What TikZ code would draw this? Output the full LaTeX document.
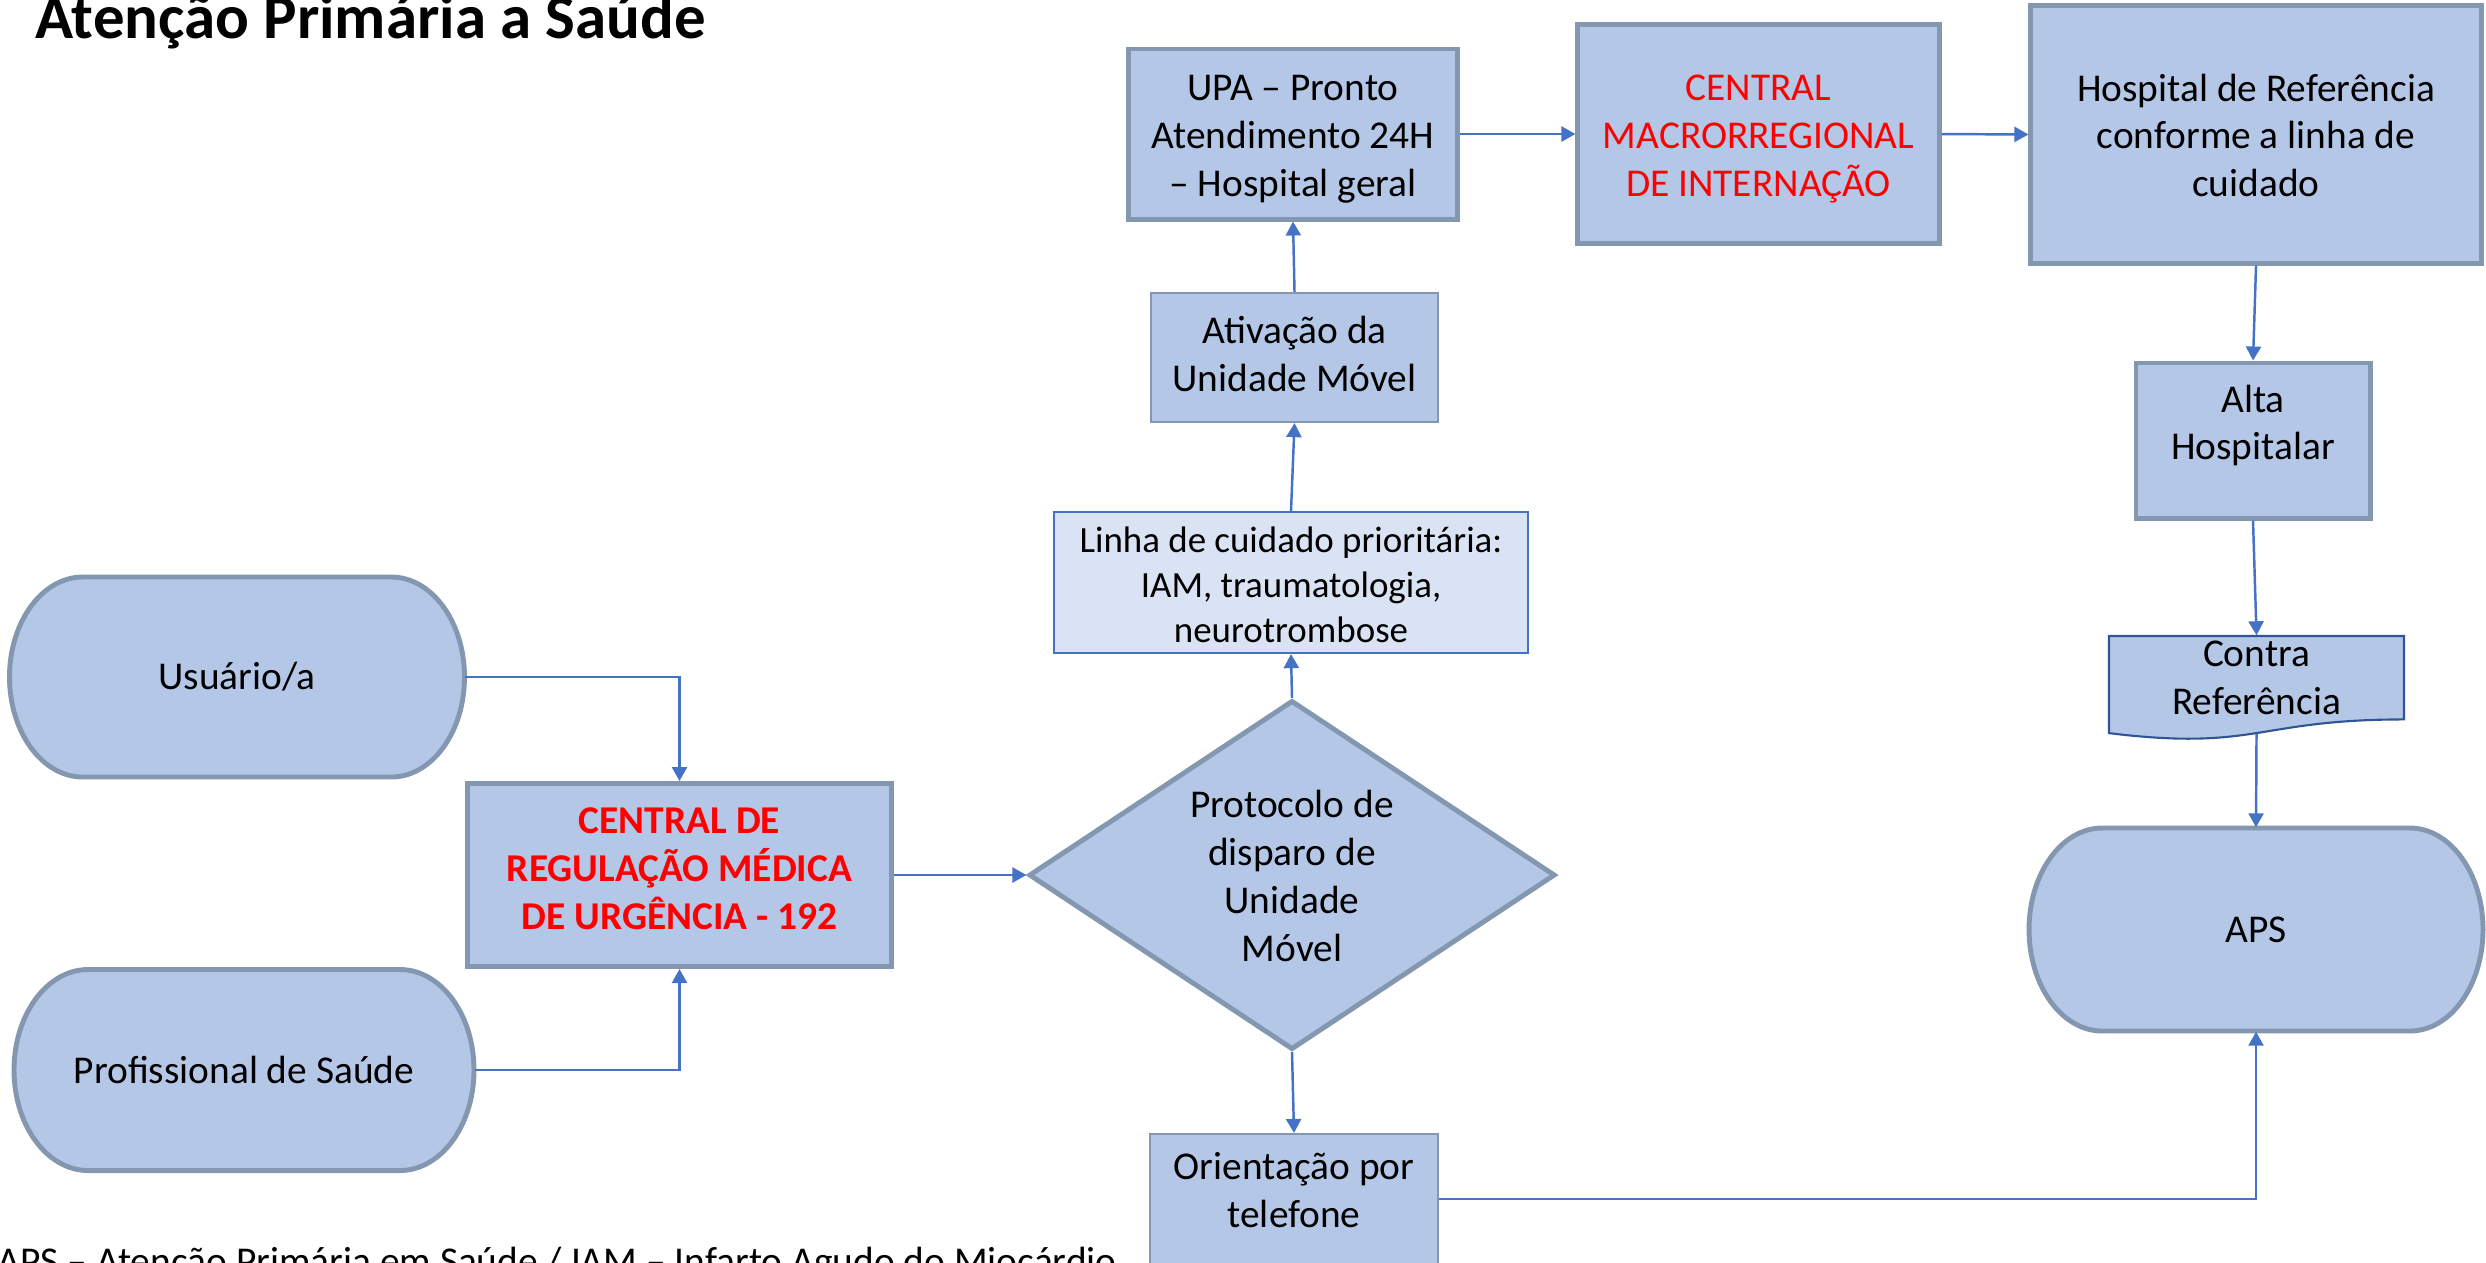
\documentclass[tikz,border=0pt]{standalone}
\usepackage{fontspec}
\setmainfont{Carlito}
\usetikzlibrary{shapes.geometric,arrows.meta,calc}
\definecolor{boxfill}{HTML}{B4C7E7}
\definecolor{boxline}{HTML}{8497B0}
\definecolor{lightfill}{HTML}{DAE3F3}
\definecolor{accent}{HTML}{4472C4}
\definecolor{darkblue}{HTML}{2F5597}
\newcommand\ml[1]{\begin{tabular}{@{}c@{}}#1\end{tabular}}
\newcommand\mlr[2]{\raisebox{#1}[\height][\depth]{\ml{#2}}}
\tikzset{
  txt/.style={font=\fontsize{11.2}{13.6}\selectfont, inner sep=0pt},
  thickbox/.style={txt, rectangle, draw=boxline, fill=boxfill, line width=1.4pt},
  thinbox/.style={txt, rectangle, draw=boxline, fill=boxfill, line width=0.6pt},
  termst/.style={draw=boxline, fill=boxfill, line width=1.4pt},
  conn/.style={draw=accent, line width=0.7pt, -{Triangle[length=0.14cm,width=0.15cm]}},
}
% name, cx, cy, w, h, text
\newcommand\terminator[6]{%
  \pgfmathsetmacro\termrx{0.161*#4}%
  \pgfmathsetmacro\termry{#5/2}%
  \path[termst] ({#2-#4/2+\termrx},{#3-\termry}) -- ({#2+#4/2-\termrx},{#3-\termry})
     arc[start angle=-90,end angle=90,x radius=\termrx,y radius=\termry]
     -- ({#2-#4/2+\termrx},{#3+\termry})
     arc[start angle=90,end angle=270,x radius=\termrx,y radius=\termry] -- cycle;
  \node[txt, minimum width=#4*0.01cm, minimum height=#5*0.01cm] (#1) at (#2,#3) {#6};
}
\begin{document}
\begin{tikzpicture}[x=0.01cm, y=-0.01cm]
\path[use as bounding box, clip] (0,0) rectangle (2486,1262);

\node[font=\fontsize{17.9}{21}\selectfont\bfseries, anchor=base west, inner sep=0pt] (title) at (35,38) {Atenção Primária a Saúde};
\node[txt, anchor=base west] (foot) at (-3,1274) {APS – Atenção Primária em Saúde / IAM – Infarto Agudo do Miocárdio};

\terminator{usu}{237}{677}{455}{200}{Usuário/a}
\terminator{prof}{244}{1070}{460}{201}{Profissional de Saúde}
\terminator{aps}{2256}{929.5}{454}{203}{APS}

\node[thickbox, minimum width=4.23cm, minimum height=1.83cm, font=\fontsize{11.2}{13.6}\selectfont\bfseries, text=red] (crm) at (679.5,875) {\mlr{0.9pt}{CENTRAL DE\\REGULAÇÃO MÉDICA\\DE URGÊNCIA - 192}};

\node[txt, diamond, aspect=1.5, draw=boxline, fill=boxfill, line width=1.4pt, minimum width=5.26cm, minimum height=3.49cm] (dia) at (1292,875) {\mlr{-1.35pt}{Protocolo de\\disparo de\\Unidade\\Móvel}};

\node[txt, rectangle, draw=accent, fill=lightfill, line width=0.6pt, minimum width=4.73cm, minimum height=1.41cm, font=\fontsize{10.5}{12.8}\selectfont] (lin) at (1291,582.5) {\mlr{-1.8pt}{Linha de cuidado prioritária:\\IAM, traumatologia,\\neurotrombose}};

\node[thinbox, minimum width=2.87cm, minimum height=1.29cm] (ati) at (1294.5,357.5) {\ml{Ativação da\\Unidade Móvel}};

\node[thickbox, minimum width=3.28cm, minimum height=1.70cm] (upa) at (1293,134) {\mlr{-1.35pt}{UPA – Pronto\\Atendimento 24H\\– Hospital geral}};

\node[thickbox, minimum width=3.61cm, minimum height=2.18cm, text=red] (cmi) at (1758.5,134) {\mlr{-1.35pt}{CENTRAL\\MACRORREGIONAL\\DE INTERNAÇÃO}};

\node[thickbox, minimum width=4.50cm, minimum height=2.57cm] (hos) at (2256,134.5) {\mlr{-1.35pt}{Hospital de Referência\\conforme a linha de\\cuidado}};

\node[thickbox, minimum width=2.34cm, minimum height=1.55cm] (alta) at (2253,440.5) {\mlr{4pt}{Alta\\Hospitalar}};

\path[draw=darkblue, fill=boxfill, line width=0.6pt] (2109,636) -- (2404,636) -- (2404,719.4)
   .. controls (2256.5,719.4) and (2256.5,751.2) .. (2109,733.1) -- cycle;
\node[txt, minimum width=2.95cm, minimum height=0.97cm] (cr) at (2256.5,684.5) {\mlr{1.1pt}{Contra\\Referência}};

\node[thinbox, minimum width=2.88cm, minimum height=1.30cm] (ori) at (1294,1199) {\mlr{1.35pt}{Orientação por\\telefone}};

\draw[conn] (usu.east) -| (crm.north);
\draw[conn] (prof.east) -| (crm.south);
\draw[conn] (crm.east) -- (dia.west);
\draw[conn] (dia.north) -- (lin.south);
\draw[conn] (lin.north) -- (ati.south);
\draw[conn] (ati.north) -- (upa.south);
\draw[conn] (upa.east) -- (cmi.west);
\draw[conn] (cmi.east) -- (hos.west);
\draw[conn] (hos.south) -- (alta.north);
\draw[conn] (alta.south) -- (cr.north);
\draw[conn] (cr.south) -- (aps.north);
\draw[conn] (dia.south) -- (ori.north);
\draw[conn] (ori.east) -| (aps.south);
\end{tikzpicture}
\end{document}
